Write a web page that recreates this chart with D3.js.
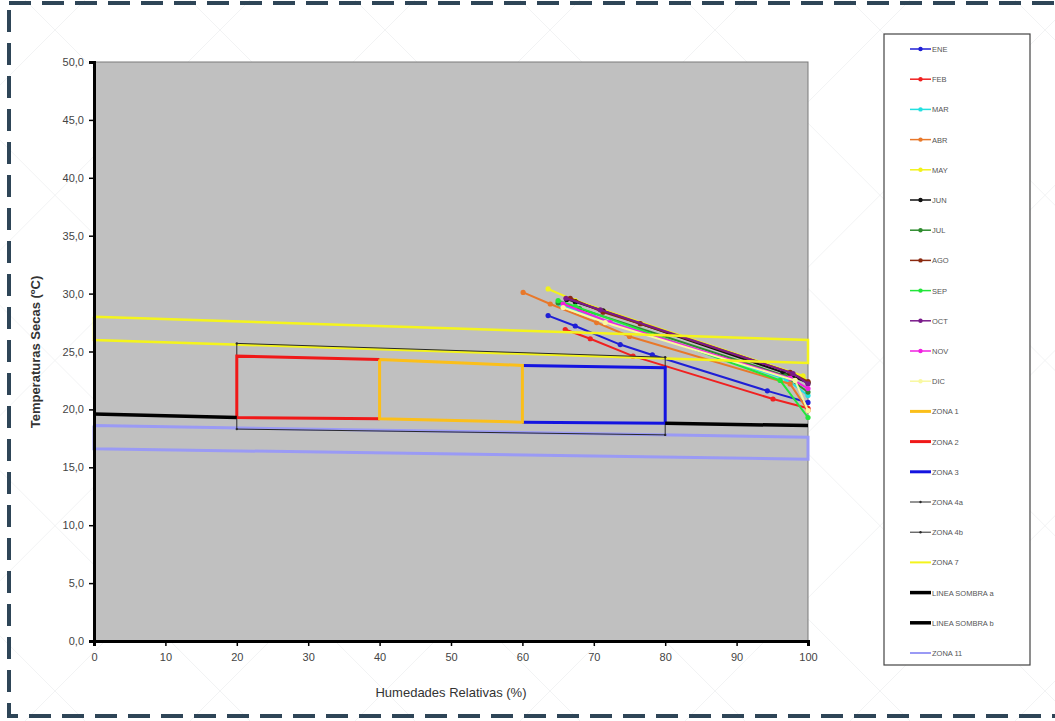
<!DOCTYPE html>
<html>
<head>
<meta charset="utf-8">
<script src="https://cdn.jsdelivr.net/npm/d3@7"></script>
<style>
  body { margin: 0; background: #fff; }
  svg { display: block; font-family: "Liberation Sans", Arial, sans-serif; }
</style>
</head>
<body>
<div id="chart"></div>
<script>
// ---- data ----
var months = ["ENE","FEB","MAR","ABR","MAY","JUN","JUL","AGO","SEP","OCT","NOV","DIC"];
var monthColors = ["#1f1fd6","#f02020","#22e0e0","#e8782a","#f2f21a","#111111","#2e8b2e","#8b2a10","#22e63a","#7a1a8a","#f020e0","#f8f8a0"];
// [humedad relativa, temperatura seca]
var ENE = [[63.6,28.1],[67.4,27.2],[73.7,25.6],[78.2,24.7],[94.3,21.6],[100,20.6]];
var FEB = [[66.0,26.9],[69.5,26.1],[75.5,24.6],[95.1,20.9],[100,20.1]];
var MAR = [[65.3,29.0],[70.0,28.0],[97.0,22.6],[100,21.2]];
var ABR = [[60.1,30.1],[63.9,29.1],[70.4,27.5],[75.0,26.3],[97.5,22.2],[100,19.9]];
var MAY = [[63.6,30.4],[67.4,29.4],[99.3,22.9],[100,22.3]];
var JUN = [[66.2,29.5],[67.4,29.3],[71.3,28.5],[96.5,23.2],[100,22.3]];
var JUL = [[65.0,29.2],[68.0,28.7],[96.8,22.9],[100,21.5]];
var AGO = [[66.7,29.6],[71.3,28.4],[76.5,27.4],[97.5,23.2],[100,22.4]];
var SEP = [[65.0,29.4],[67.4,28.9],[96.1,22.5],[100,19.3]];
var OCT = [[66.1,29.6],[70.9,28.6],[97.9,23.1],[100,22.2]];
var NOV = [[65.7,29.1],[72.3,27.5],[97.5,22.7],[100,21.8]];
var DIC = [[65.7,28.8],[71.6,27.5],[98.2,22.5],[100,19.9]];
var monthData = [ENE,FEB,MAR,ABR,MAY,JUN,JUL,AGO,SEP,OCT,NOV,DIC];

var zona1 = [[40,24.3],[60,23.8],[60,18.9],[40,19.2],[40,24.3]];
var zona2 = [[40,24.3],[20,24.6],[20,19.3],[40,19.2]];
var zona3 = [[60,23.8],[80,23.6],[80,18.8],[60,18.9]];
var zona4a = [[20,19.3],[20,25.7],[80,24.5],[80,23.6]];
var zona4b = [[20,19.3],[20,18.3],[80,17.8],[80,18.8]];
var zona7 = [[0,28.0],[100,26.0],[100,24.0],[0,26.0],[0,28.0]];
var sombraA = [[0,19.6],[20,19.3]];
var sombraB = [[80,18.8],[100,18.6]];
var zona11 = [[0,18.6],[100,17.6],[100,15.7],[0,16.6],[0,18.6]];

var yTicks = [0,5,10,15,20,25,30,35,40,45,50];
var xTicks = [0,10,20,30,40,50,60,70,80,90,100];

var W = 1055, H = 721;
var svg = d3.select("#chart").append("svg").attr("width", W).attr("height", H);

// faint watermark pattern in the background
var wm = svg.append("g").attr("stroke", "#f2f3f4").attr("stroke-width", 1);
for (var k = -800; k < 1300; k += 165) {
  wm.append("line").attr("x1", k).attr("y1", 0).attr("x2", k + 720).attr("y2", 721);
  wm.append("line").attr("x1", k + 720).attr("y1", 0).attr("x2", k).attr("y2", 721);
}

// dashed frame
svg.append("rect")
  .attr("x", 9).attr("y", 3).attr("width", 1100).attr("height", 713)
  .attr("fill", "none").attr("stroke", "#2e4557").attr("stroke-width", 4)
  .attr("stroke-dasharray", "22,11");

var x = d3.scaleLinear().domain([0,100]).range([94,808]);
var y = d3.scaleLinear().domain([0,50]).range([641,62]);

svg.append("rect")
  .attr("x", x(0)).attr("y", y(50))
  .attr("width", x(100) - x(0)).attr("height", y(0) - y(50))
  .attr("fill", "#c0c0c0").attr("stroke", "#7a7a7a").attr("stroke-width", 1);

var line = d3.line().x(d => x(d[0])).y(d => y(d[1]));

// months
monthData.forEach(function(pts, i) {
  var g = svg.append("g");
  g.append("path").datum(pts).attr("d", line)
    .attr("fill", "none").attr("stroke", monthColors[i]).attr("stroke-width", 2);
  g.selectAll("circle").data(pts).enter().append("circle")
    .attr("cx", d => x(d[0])).attr("cy", d => y(d[1])).attr("r", 2.6)
    .attr("fill", monthColors[i]);
});

// zones
function drawZone(pts, color, w, marks) {
  svg.append("path").datum(pts).attr("d", line)
    .attr("fill", "none").attr("stroke", color).attr("stroke-width", w)
    .attr("stroke-linejoin", "miter");
  if (marks) {
    svg.selectAll(null).data(pts).enter().append("circle")
      .attr("cx", d => x(d[0])).attr("cy", d => y(d[1])).attr("r", 1.2)
      .attr("fill", color);
  }
}
drawZone(zona7, "#f4f41c", 2.5);
drawZone(zona11, "#9a9af5", 3);
drawZone(zona4a, "#2a2a2a", 1, true);
drawZone(zona4b, "#2a2a2a", 1, true);
drawZone(zona2, "#f01818", 3);
drawZone(zona3, "#1414e0", 3);
drawZone(zona1, "#fbbf1a", 3);
drawZone(sombraA, "#000", 3.5);
drawZone(sombraB, "#000", 3.5);

// axes
var fmt = d3.format(".1f");
var yAxis = svg.append("g").attr("transform", "translate(" + x(0) + ",0)")
  .call(d3.axisLeft(y).tickValues(yTicks).tickSize(5).tickPadding(5)
    .tickFormat(d => fmt(d).replace(".", ",")));
var xAxis = svg.append("g").attr("transform", "translate(0," + y(0) + ")")
  .call(d3.axisBottom(x).tickValues(xTicks).tickSize(5).tickPadding(7));
[yAxis, xAxis].forEach(function(a) {
  a.select(".domain").attr("stroke", "#000").attr("stroke-width", 3);
  a.selectAll(".tick line").attr("stroke", "#000").attr("stroke-width", 1.5);
  a.selectAll(".tick text").attr("fill", "#444").style("font-size", "11px")
    .style("font-family", "'Liberation Sans', Arial, sans-serif");
});

svg.append("text")
  .attr("transform", "translate(40,352) rotate(-90)")
  .attr("text-anchor", "middle").attr("fill", "#333")
  .style("font-size", "13px").style("font-weight", "bold")
  .text("Temperaturas Secas (ºC)");
svg.append("text")
  .attr("x", 451).attr("y", 697)
  .attr("text-anchor", "middle").attr("fill", "#333")
  .style("font-size", "13px")
  .text("Humedades Relativas (%)");

// legend
var legNames = months.concat(["ZONA 1","ZONA 2","ZONA 3","ZONA 4a","ZONA 4b","ZONA 7","LINEA SOMBRA a","LINEA SOMBRA b","ZONA 11"]);
var legColors = monthColors.concat(["#fbbf1a","#f01818","#1414e0","#2a2a2a","#2a2a2a","#f4f41c","#000","#000","#9a9af5"]);
var legWidths = months.map(() => 1.5).concat([3,3,3,1,1,2,3.5,3.5,2]);
var legMarker = months.map(() => 2.2).concat([0,0,0,1.2,1.2,0,0,0,0]);

var leg = svg.append("g");
leg.append("rect").attr("x", 884).attr("y", 34).attr("width", 146).attr("height", 631)
  .attr("fill", "#fff").attr("stroke", "#444").attr("stroke-width", 1.2);
var ly = d3.scaleLinear().domain([0, legNames.length - 1]).range([49, 653]);
legNames.forEach(function(n, i) {
  var yy = ly(i);
  leg.append("line").attr("x1", 910).attr("x2", 931).attr("y1", yy).attr("y2", yy)
    .attr("stroke", legColors[i]).attr("stroke-width", legWidths[i]);
  if (legMarker[i]) leg.append("circle").attr("cx", 920.5).attr("cy", yy).attr("r", legMarker[i])
    .attr("fill", legColors[i]);
  leg.append("text").attr("x", 932).attr("y", yy + 3).attr("fill", "#555")
    .style("font-size", "7.5px").text(n);
});
</script>
</body>
</html>
